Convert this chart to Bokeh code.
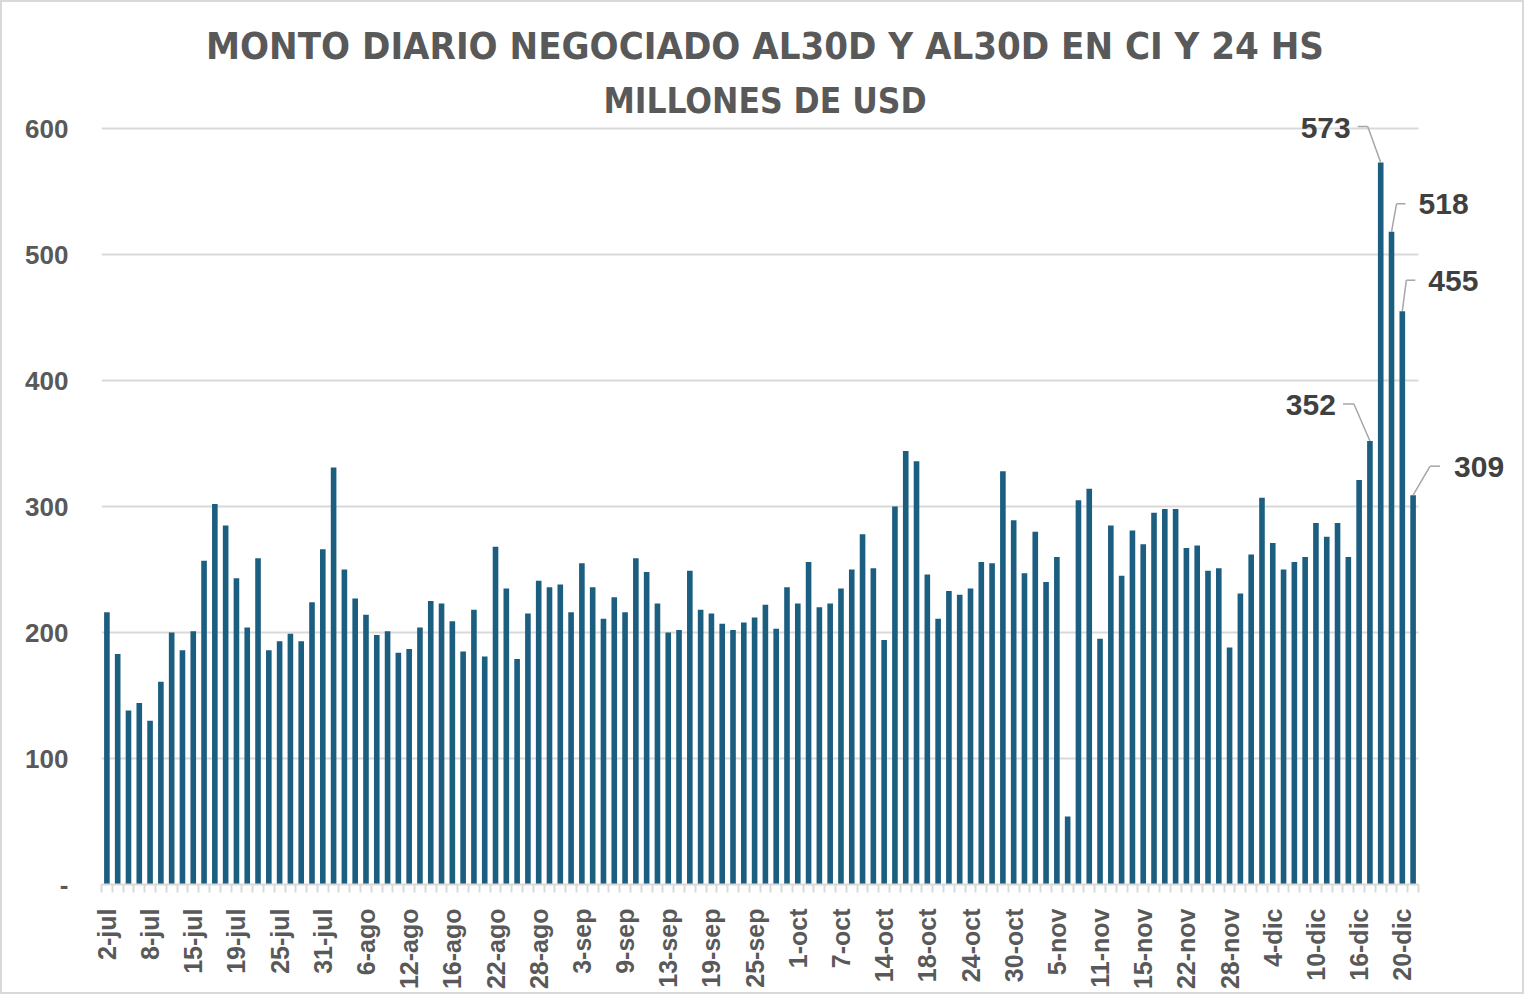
import math
from bokeh.plotting import figure
from bokeh.models import Range1d, FixedTicker, Label, Arrow
from bokeh.embed import file_html
from bokeh.resources import INLINE

# ---------------- data ----------------
values = [216, 183, 138, 144, 130, 161, 200, 186, 201, 257,
          302, 285, 243, 204, 259, 186, 193, 199, 193, 224,
          266, 331, 250, 227, 214, 198, 201, 184, 187, 204,
          225, 223, 209, 185, 218, 181, 268, 235, 179, 215,
          241, 236, 238, 216, 255, 236, 211, 228, 216, 259,
          248, 223, 200, 202, 249, 218, 215, 207, 202, 208,
          212, 222, 203, 236, 223, 256, 220, 223, 235, 250,
          278, 251, 194, 300, 344, 336, 246, 211, 233, 230,
          235, 256, 255, 328, 289, 247, 280, 240, 260, 54,
          305, 314, 195, 285, 245, 281, 270, 295, 298, 298,
          267, 269, 249, 251, 188, 231, 262, 307, 271, 250,
          256, 260, 287, 276, 287, 260, 321, 352, 573, 518,
          455, 309]

x_tick_labels = ["2-jul", "8-jul", "15-jul", "19-jul", "25-jul", "31-jul",
                 "6-ago", "12-ago", "16-ago", "22-ago", "28-ago",
                 "3-sep", "9-sep", "13-sep", "19-sep", "25-sep",
                 "1-oct", "7-oct", "14-oct", "18-oct", "24-oct", "30-oct",
                 "5-nov", "11-nov", "15-nov", "22-nov", "28-nov",
                 "4-dic", "10-dic", "16-dic", "20-dic"]
tick_step = 4

y_ticks = [0, 100, 200, 300, 400, 500, 600]
y_tick_labels = ["-", "100", "200", "300", "400", "500", "600"]

title_line1 = "MONTO DIARIO NEGOCIADO AL30D Y AL30D EN CI Y 24 HS"
title_line2 = "MILLONES DE USD"

labelled_idx = [117, 118, 119, 120, 121]

# ---------------- style ----------------
BAR_COLOR = "#1B5E80"
GRID_COLOR = "#D9D9D9"
TEXT_GRAY = "#595959"
LABEL_DARK = "#404040"
LEADER_COLOR = "#A6A6A6"
NARROW = "DejaVu Sans Condensed, sans-serif"
SANS = "Liberation Sans, Arial, sans-serif"

BORDER = 2
W, H = 1524, 994
ML, MR, MT = 101 - BORDER, 4, 2
CAT_PX = 1317          # pixel width taken by the categories
Y_PX = 756             # pixel height of the 0..600 band
Y_BOTTOM = 884 - BORDER  # pixel row of the zero line inside the figure
MB = H - Y_BOTTOM

# label styling in screen pixels relative to bar top:
# (text dx, text baseline dy, align, elbow dx, elbow dy, end dx)
label_style = {
    117: (-34, 36, "right", -16, 37, -27),
    118: (-30, 35, "right", -13, 36, -23),
    119: (27, 28, "left", 5, 28, 14),
    120: (26, 30, "left", 4, 31, 13),
    121: (41, 28, "left", 17, 29, 27),
}

n = len(values)
idx = list(range(n))
sx = CAT_PX / n
sy = Y_PX / (y_ticks[-1] - y_ticks[0])
frame_w = W - ML - MR
frame_h = H - MT - MB

p = figure(width=W, height=H, output_backend="svg", toolbar_location=None,
           x_range=Range1d(-0.5, -0.5 + frame_w / sx),
           y_range=Range1d(y_ticks[0], y_ticks[0] + frame_h / sy),
           min_border_left=ML, min_border_right=MR,
           min_border_top=MT, min_border_bottom=MB, title=None,
           styles={"border": f"{BORDER}px solid {GRID_COLOR}"})
p.outline_line_color = None
p.background_fill_color = "white"
p.border_fill_color = "white"

p.vbar(x=idx, top=values, width=0.52, fill_color=BAR_COLOR, line_color=None)

# axes
major = list(range(0, tick_step * len(x_tick_labels), tick_step))
minor = [i - 0.5 for i in range(n + 1)]
p.xaxis.ticker = FixedTicker(ticks=major, minor_ticks=minor)
p.xaxis.bounds = (-0.5, n - 0.5)
p.xaxis.major_label_overrides = {t: lab for t, lab in zip(major, x_tick_labels)}
p.xaxis.major_label_orientation = math.pi / 2
p.xaxis.major_tick_line_color = None
p.xaxis.major_tick_out = 0
p.xaxis.major_tick_in = 0
p.xaxis.minor_tick_out = 8
p.xaxis.minor_tick_in = 0
p.xaxis.minor_tick_line_color = GRID_COLOR
p.xaxis.minor_tick_line_width = 2
p.xaxis.axis_line_color = GRID_COLOR
p.xaxis.axis_line_width = 2
p.xaxis.major_label_standoff = 16
p.xaxis.major_label_text_font = SANS
p.xaxis.major_label_text_font_style = "bold"
p.xaxis.major_label_text_font_size = "25px"
p.xaxis.major_label_text_color = TEXT_GRAY

p.yaxis.ticker = FixedTicker(ticks=y_ticks)
p.yaxis.bounds = (y_ticks[0], y_ticks[-1])
p.yaxis.major_label_overrides = {t: lab for t, lab in zip(y_ticks, y_tick_labels)}
p.yaxis.axis_line_color = None
p.yaxis.major_tick_line_color = None
p.yaxis.minor_tick_line_color = None
p.yaxis.major_tick_out = 0
p.yaxis.major_label_standoff = 33
p.yaxis.major_label_text_font = SANS
p.yaxis.major_label_text_font_style = "bold"
p.yaxis.major_label_text_font_size = "26px"
p.yaxis.major_label_text_color = TEXT_GRAY

p.xgrid.grid_line_color = None
grid_ok = True
try:
    p.ygrid.cross_bounds = (-0.5, n - 0.5)
    p.ygrid.bounds = (y_ticks[0], y_ticks[-1])
except Exception:
    grid_ok = False
if grid_ok:
    p.ygrid.grid_line_color = GRID_COLOR
    p.ygrid.grid_line_width = 2
else:
    p.ygrid.grid_line_color = None
    p.segment(x0=[-0.5] * len(y_ticks), x1=[n - 0.5] * len(y_ticks),
              y0=y_ticks, y1=y_ticks, line_color=GRID_COLOR, line_width=2,
              level="underlay")

# titles (centred over the categories)
xc = (n - 1) / 2
p.add_layout(Label(x=xc, y=y_ticks[-1], x_offset=5, y_offset=83, text=title_line1,
                   text_align="center", text_baseline="alphabetic",
                   text_font=NARROW, text_font_style="bold",
                   text_font_size="38px", text_color=TEXT_GRAY))
p.add_layout(Label(x=xc, y=y_ticks[-1], x_offset=5, y_offset=28, text=title_line2,
                   text_align="center", text_baseline="alphabetic",
                   text_font=NARROW, text_font_style="bold",
                   text_font_size="35px", text_color=TEXT_GRAY))

# data labels with leader lines
for i in labelled_idx:
    tdx, tdy, align, edx, edy, endx = label_style[i]
    v = values[i]
    p.add_layout(Label(x=i, y=v, x_offset=tdx, y_offset=tdy, text=str(v),
                       text_align=align, text_baseline="alphabetic",
                       text_font=SANS, text_font_style="bold",
                       text_font_size="30px", text_color=LABEL_DARK))
    ex, ey = i + edx / sx, v + edy / sy
    fx = i + endx / sx
    p.add_layout(Arrow(end=None, x_start=i, y_start=v, x_end=ex, y_end=ey,
                       line_color=LEADER_COLOR, line_width=1.5))
    p.add_layout(Arrow(end=None, x_start=ex, y_start=ey, x_end=fx, y_end=ey,
                       line_color=LEADER_COLOR, line_width=1.5))

open("out.html", "w").write(file_html(p, INLINE))
